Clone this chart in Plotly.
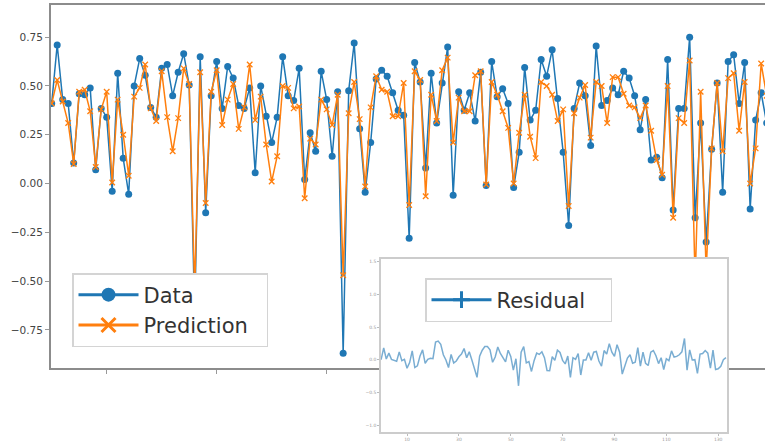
import plotly.graph_objects as go

# ---- data ----
data = [0.41, 0.71, 0.43, 0.41, 0.105, 0.46, 0.455, 0.49, 0.07, 0.385,
        0.34, -0.04, 0.565, 0.13, -0.055, 0.50, 0.64, 0.555, 0.39, 0.34,
        0.59, 0.61, 0.45, 0.57, 0.665, 0.505, -0.67, 0.65, -0.15, 0.45,
        0.625, 0.385, 0.60, 0.54, 0.40, 0.385, 0.49, 0.055, 0.50, 0.345,
        0.21, 0.34, 0.65, 0.45, 0.425, 0.59, 0.02, 0.26, 0.165, 0.575,
        0.43, 0.14, 0.47, -0.87, 0.475, 0.72, 0.28, -0.045, 0.21, 0.535,
        0.58, 0.55, 0.465, 0.375, 0.35, -0.28, 0.62, 0.52, 0.08, 0.565,
        0.31, 0.515, 0.70, -0.06, 0.47, 0.375, 0.465, 0.32, 0.57, -0.01,
        0.625, 0.445, 0.485, 0.41, -0.02, 0.16, 0.595, 0.325, 0.375, 0.635,
        0.55, 0.685, 0.435, 0.16, -0.215, 0.385, 0.515, 0.45, 0.195, 0.705,
        0.40, 0.425, 0.49, 0.455, 0.575, 0.54, 0.45, 0.275, 0.43, 0.12,
        0.135, 0.03, 0.635, -0.135, 0.385, 0.385, 0.75, -0.175, 0.31, -0.30,
        0.175, 0.515, -0.045, 0.625, 0.66, 0.41, 0.62, -0.13, 0.325, 0.465,
        0.31, 0.38, 0.50, 0.55]

prediction = [0.41, 0.53, 0.42, 0.31, 0.10, 0.47, 0.48, 0.37, 0.085, 0.38,
              0.47, 0.005, 0.43, 0.25, 0.04, 0.445, 0.49, 0.61, 0.385, 0.32,
              0.575, 0.34, 0.165, 0.335, 0.59, 0.51, -0.55, 0.57, -0.10, 0.47,
              0.58, 0.30, 0.43, 0.51, 0.28, 0.39, 0.61, 0.325, 0.445, 0.20,
              0.01, 0.14, 0.50, 0.49, 0.385, 0.395, -0.075, 0.23, 0.20, 0.43,
              0.38, 0.30, 0.455, -0.47, 0.36, 0.52, 0.33, -0.015, 0.39, 0.55,
              0.48, 0.47, 0.345, 0.345, 0.515, -0.11, 0.575, 0.53, -0.065, 0.455,
              0.32, 0.58, 0.645, 0.21, 0.44, 0.37, 0.37, 0.555, 0.575, -0.005,
              0.52, 0.455, 0.37, 0.285, 0.0, 0.26, 0.455, 0.24, 0.13, 0.52,
              0.50, 0.455, 0.32, 0.38, -0.115, 0.36, 0.44, 0.505, 0.235, 0.52,
              0.50, 0.31, 0.545, 0.545, 0.46, 0.40, 0.39, 0.335, 0.40, 0.27,
              0.12, 0.045, 0.50, -0.175, 0.335, 0.31, 0.63, -0.50, 0.47, -0.45,
              0.18, 0.515, 0.165, 0.54, 0.565, 0.27, 0.52, 0.0, 0.18, 0.615,
              0.45, 0.48, 0.50, 0.52]

index = list(range(len(data)))
residual = [d - p for d, p in zip(data, prediction)]

series_names = ["Data", "Prediction", "Residual"]
main_yticks = [-0.75, -0.5, -0.25, 0.0, 0.25, 0.5, 0.75]
main_xticks = [10, 30, 50, 70, 90, 110, 130]
inset_yticks = [-1.0, -0.5, 0.0, 0.5, 1.0, 1.5]
inset_xticks = [10, 30, 50, 70, 90, 110, 130]

W, H = 765, 442
FONT = "DejaVu Sans"
BLUE = "#1f77b4"
ORANGE = "#ff7f0e"
NB = "\u00a0"

main_xrange = [-0.18, 129.7]
main_yrange = [-0.9466, 0.9146]
inset_xrange = [-0.04, 133.4]
inset_yrange = [-1.107, 1.541]

fig = go.Figure()

# main series
fig.add_trace(go.Scatter(x=index, y=data, mode="lines+markers", showlegend=False,
                         line=dict(color=BLUE, width=1.5),
                         marker=dict(symbol="circle", size=7, color=BLUE)))
fig.add_trace(go.Scatter(x=index, y=prediction, mode="lines+markers", showlegend=False,
                         line=dict(color=ORANGE, width=1.5),
                         marker=dict(symbol="x-thin", size=5.5, color=ORANGE,
                                     line=dict(color=ORANGE, width=1.3))))
# legend entries (bigger symbols, as in the reference legend)
fig.add_trace(go.Scatter(x=[None], y=[None], name=series_names[0], mode="lines+markers",
                         line=dict(color=BLUE, width=3),
                         marker=dict(symbol="circle", size=14, color=BLUE),
                         legend="legend"))
fig.add_trace(go.Scatter(x=[None], y=[None], name=series_names[1] + NB * 2,
                         mode="lines+markers",
                         line=dict(color=ORANGE, width=3),
                         marker=dict(symbol="x-thin", size=14, color=ORANGE,
                                     line=dict(color=ORANGE, width=3)),
                         legend="legend"))

# inset residual
fig.add_trace(go.Scatter(x=index, y=residual, mode="lines", showlegend=False,
                         xaxis="x2", yaxis="y2",
                         line=dict(color="rgba(31,119,180,0.6)", width=1.5)))
fig.add_trace(go.Scatter(x=[None], y=[None], name=series_names[2] + NB * 3,
                         mode="lines+markers",
                         xaxis="x2", yaxis="y2",
                         line=dict(color=BLUE, width=3),
                         marker=dict(symbol="cross-thin", size=12, color=BLUE,
                                     line=dict(color=BLUE, width=3)),
                         legend="legend2"))

# white background for the inset, drawn in the inset's own shape layer
fig.add_shape(type="rect", xref="x2", yref="y2",
              x0=inset_xrange[0] - 20, x1=inset_xrange[1] + 20,
              y0=inset_yrange[0] - 0.5, y1=inset_yrange[1] + 0.5,
              fillcolor="white", line=dict(width=0), layer="below")

fig.update_layout(
    width=W, height=H,
    margin=dict(l=0, r=0, t=0, b=0),
    paper_bgcolor="white", plot_bgcolor="white",
    font=dict(family=FONT, color="#444"),
    xaxis=dict(domain=[50.7 / W, 1.0], range=main_xrange, anchor="y",
               showgrid=False, zeroline=False,
               showline=True, mirror=True, linecolor="#8c8c8c", linewidth=1.5,
               ticks="outside", ticklen=4, tickcolor="#999", tickwidth=1,
               tickvals=main_xticks, showticklabels=False),
    yaxis=dict(domain=[1 - 368.3 / H, 1 - 5 / H], range=main_yrange, anchor="x",
               showgrid=False, zeroline=False,
               showline=True, linecolor="#8c8c8c", linewidth=1.5,
               ticks="outside", ticklen=4, tickcolor="#999", tickwidth=1,
               tickvals=main_yticks, tickformat=".2f",
               tickfont=dict(family=FONT, size=10.5, color="#444")),
    xaxis2=dict(domain=[381 / W, 727 / W], range=inset_xrange, anchor="y2",
                showgrid=False, zeroline=False,
                showline=True, mirror=True, linecolor="#cccccc", linewidth=1.5,
                ticks="outside", ticklen=2, tickcolor="#bbb",
                tickvals=inset_xticks,
                tickfont=dict(family=FONT, size=4.5, color="#999")),
    yaxis2=dict(domain=[1 - 432 / H, 1 - 259 / H], range=inset_yrange, anchor="x2",
                showgrid=False, zeroline=False,
                showline=True, mirror=True, linecolor="#cccccc", linewidth=1.5,
                ticks="outside", ticklen=2, tickcolor="#bbb",
                tickvals=inset_yticks, tickformat=".1f",
                tickfont=dict(family=FONT, size=4.5, color="#999")),
    legend=dict(x=72 / W, y=1 - 273 / H, xanchor="left", yanchor="top",
                bgcolor="white", bordercolor="#d4d4d4", borderwidth=1.5,
                font=dict(family=FONT, size=21, color="#333"),
                itemwidth=60),
    legend2=dict(x=425 / W, y=1 - 278 / H, xanchor="left", yanchor="top",
                 bgcolor="white", bordercolor="#d4d4d4", borderwidth=1.5,
                 font=dict(family=FONT, size=21, color="#333"),
                 itemwidth=60),
)

fig.write_html("out.html",
               config={"displayModeBar": False},
               post_script="document.body.style.margin='0';"
                           "document.body.style.overflow='hidden';")
